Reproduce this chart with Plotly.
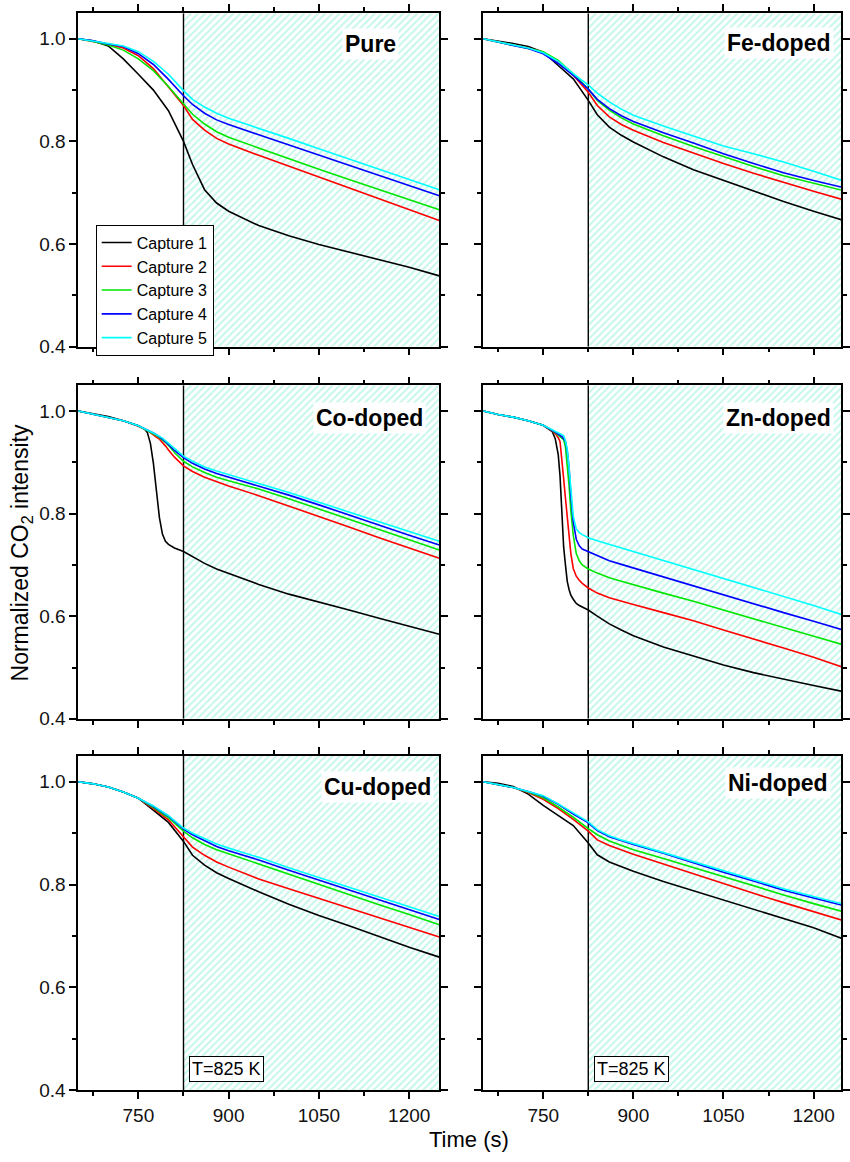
import plotly.graph_objects as go
from plotly.subplots import make_subplots

# ---------------- data ----------------
T_STD = [650, 675, 700, 725, 750, 775, 800, 825, 840, 860, 880, 900, 950, 1000, 1050, 1100, 1150, 1200, 1250]

PURE_C1 = [1.0, 0.996, 0.986, 0.961, 0.931, 0.900, 0.860, 0.800, 0.755, 0.706, 0.680, 0.664, 0.636, 0.616, 0.599, 0.584, 0.569, 0.555, 0.538]
PURE_C2 = [1.0, 0.995, 0.989, 0.982, 0.967, 0.942, 0.907, 0.870, 0.843, 0.822, 0.806, 0.795, 0.773, 0.752, 0.731, 0.710, 0.688, 0.667, 0.646]
PURE_C3 = [1.0, 0.995, 0.988, 0.978, 0.961, 0.938, 0.907, 0.873, 0.853, 0.834, 0.819, 0.808, 0.787, 0.766, 0.746, 0.726, 0.706, 0.687, 0.667]
PURE_C4 = [1.0, 0.996, 0.990, 0.985, 0.971, 0.950, 0.921, 0.889, 0.872, 0.855, 0.842, 0.833, 0.813, 0.793, 0.773, 0.753, 0.733, 0.714, 0.694]
PURE_C5 = [1.0, 0.996, 0.991, 0.986, 0.975, 0.956, 0.931, 0.899, 0.882, 0.867, 0.855, 0.845, 0.826, 0.806, 0.786, 0.766, 0.746, 0.726, 0.706]

FE_C1 = [1.0, 0.996, 0.991, 0.985, 0.974, 0.948, 0.922, 0.880, 0.852, 0.828, 0.812, 0.799, 0.770, 0.745, 0.724, 0.704, 0.683, 0.664, 0.646]
FE_C2 = [1.0, 0.994, 0.988, 0.982, 0.974, 0.955, 0.929, 0.896, 0.870, 0.848, 0.833, 0.822, 0.798, 0.777, 0.757, 0.738, 0.720, 0.703, 0.686]
FE_C3 = [1.0, 0.994, 0.988, 0.982, 0.975, 0.958, 0.932, 0.902, 0.880, 0.861, 0.846, 0.834, 0.811, 0.790, 0.770, 0.751, 0.733, 0.718, 0.704]
FE_C4 = [1.0, 0.993, 0.987, 0.981, 0.971, 0.952, 0.929, 0.902, 0.882, 0.864, 0.850, 0.839, 0.817, 0.797, 0.776, 0.757, 0.739, 0.724, 0.710]
FE_C5 = [1.0, 0.994, 0.988, 0.982, 0.973, 0.956, 0.932, 0.910, 0.894, 0.877, 0.863, 0.851, 0.830, 0.811, 0.791, 0.776, 0.760, 0.742, 0.723]

T_CO = [650, 675, 700, 725, 750, 760, 765, 770, 775, 780, 785, 790, 795, 800, 810, 825, 840, 860, 880, 900, 950, 1000, 1050, 1100, 1150, 1200, 1250]
CO_C1 = [1.0, 0.994, 0.989, 0.981, 0.971, 0.965, 0.958, 0.937, 0.898, 0.845, 0.792, 0.760, 0.746, 0.740, 0.733, 0.726, 0.716, 0.703, 0.692, 0.683, 0.662, 0.643, 0.628, 0.612, 0.596, 0.581, 0.565]
CO_C2 = [1.0, 0.994, 0.988, 0.981, 0.970, 0.965, 0.962, 0.958, 0.953, 0.949, 0.945, 0.939, 0.932, 0.924, 0.910, 0.893, 0.882, 0.871, 0.862, 0.854, 0.835, 0.815, 0.794, 0.774, 0.753, 0.733, 0.713]
CO_C3 = [1.0, 0.994, 0.988, 0.981, 0.971, 0.965, 0.962, 0.959, 0.956, 0.952, 0.948, 0.944, 0.939, 0.933, 0.919, 0.902, 0.891, 0.880, 0.871, 0.864, 0.848, 0.829, 0.809, 0.789, 0.769, 0.749, 0.729]
CO_C4 = [1.0, 0.994, 0.988, 0.981, 0.971, 0.966, 0.963, 0.960, 0.957, 0.954, 0.950, 0.945, 0.940, 0.935, 0.923, 0.909, 0.898, 0.887, 0.878, 0.871, 0.855, 0.836, 0.817, 0.797, 0.778, 0.758, 0.739]
CO_C5 = [1.0, 0.994, 0.988, 0.981, 0.971, 0.966, 0.963, 0.960, 0.957, 0.954, 0.951, 0.947, 0.942, 0.937, 0.926, 0.912, 0.902, 0.891, 0.883, 0.876, 0.860, 0.841, 0.822, 0.803, 0.784, 0.765, 0.746]

T_ZN = [650, 675, 700, 725, 750, 760, 765, 770, 775, 778, 781, 784, 787, 790, 793, 796, 800, 805, 810, 815, 825, 840, 860, 880, 900, 950, 1000, 1050, 1100, 1150, 1200, 1250]
ZN_C1 = [1.0, 0.993, 0.988, 0.981, 0.972, 0.965, 0.960, 0.946, 0.915, 0.873, 0.790, 0.735, 0.700, 0.668, 0.652, 0.641, 0.633, 0.625, 0.621, 0.618, 0.612, 0.600, 0.585, 0.573, 0.562, 0.540, 0.522, 0.505, 0.490, 0.477, 0.465, 0.453]
ZN_C2 = [1.0, 0.993, 0.988, 0.981, 0.972, 0.965, 0.961, 0.956, 0.948, 0.940, 0.910, 0.868, 0.830, 0.790, 0.755, 0.722, 0.693, 0.678, 0.670, 0.664, 0.655, 0.645, 0.636, 0.629, 0.623, 0.607, 0.591, 0.573, 0.556, 0.538, 0.520, 0.500]
ZN_C3 = [1.0, 0.993, 0.988, 0.981, 0.972, 0.966, 0.962, 0.958, 0.953, 0.950, 0.947, 0.944, 0.930, 0.899, 0.855, 0.805, 0.758, 0.722, 0.708, 0.700, 0.692, 0.684, 0.675, 0.668, 0.661, 0.645, 0.629, 0.612, 0.595, 0.577, 0.560, 0.544]
ZN_C4 = [1.0, 0.993, 0.988, 0.981, 0.972, 0.966, 0.963, 0.959, 0.955, 0.953, 0.950, 0.946, 0.941, 0.922, 0.890, 0.835, 0.784, 0.750, 0.737, 0.731, 0.726, 0.717, 0.708, 0.701, 0.694, 0.676, 0.658, 0.641, 0.624, 0.607, 0.590, 0.573]
ZN_C5 = [1.0, 0.993, 0.988, 0.981, 0.972, 0.966, 0.963, 0.960, 0.956, 0.955, 0.954, 0.952, 0.942, 0.925, 0.890, 0.850, 0.795, 0.770, 0.763, 0.759, 0.753, 0.747, 0.740, 0.733, 0.726, 0.708, 0.690, 0.673, 0.656, 0.639, 0.621, 0.602]

CU_C1 = [1.0, 0.996, 0.990, 0.980, 0.968, 0.945, 0.921, 0.884, 0.857, 0.838, 0.823, 0.812, 0.786, 0.762, 0.740, 0.720, 0.699, 0.678, 0.659]
CU_C2 = [1.0, 0.996, 0.990, 0.980, 0.968, 0.948, 0.926, 0.894, 0.873, 0.857, 0.844, 0.834, 0.811, 0.792, 0.773, 0.754, 0.736, 0.717, 0.698]
CU_C3 = [1.0, 0.996, 0.990, 0.980, 0.968, 0.950, 0.930, 0.904, 0.891, 0.878, 0.868, 0.860, 0.840, 0.820, 0.800, 0.781, 0.761, 0.742, 0.722]
CU_C4 = [1.0, 0.996, 0.990, 0.980, 0.968, 0.952, 0.933, 0.908, 0.897, 0.885, 0.874, 0.866, 0.848, 0.828, 0.809, 0.790, 0.771, 0.751, 0.732]
CU_C5 = [1.0, 0.996, 0.990, 0.980, 0.968, 0.953, 0.934, 0.910, 0.900, 0.889, 0.879, 0.871, 0.853, 0.833, 0.814, 0.795, 0.776, 0.757, 0.738]

NI_C1 = [1.0, 0.997, 0.991, 0.976, 0.954, 0.935, 0.915, 0.881, 0.858, 0.844, 0.835, 0.826, 0.806, 0.788, 0.770, 0.752, 0.734, 0.716, 0.694]
NI_C2 = [1.0, 0.995, 0.989, 0.979, 0.966, 0.948, 0.927, 0.904, 0.887, 0.876, 0.867, 0.859, 0.840, 0.821, 0.801, 0.783, 0.765, 0.748, 0.730]
NI_C3 = [1.0, 0.995, 0.989, 0.980, 0.969, 0.951, 0.931, 0.909, 0.897, 0.885, 0.876, 0.868, 0.851, 0.833, 0.816, 0.798, 0.780, 0.763, 0.747]
NI_C4 = [1.0, 0.995, 0.989, 0.981, 0.972, 0.956, 0.937, 0.920, 0.905, 0.893, 0.885, 0.878, 0.861, 0.842, 0.824, 0.807, 0.789, 0.774, 0.759]
NI_C5 = [1.0, 0.995, 0.989, 0.981, 0.973, 0.957, 0.939, 0.922, 0.907, 0.895, 0.887, 0.880, 0.863, 0.845, 0.827, 0.810, 0.792, 0.777, 0.762]

SERIES_NAMES = ["Capture 1", "Capture 2", "Capture 3", "Capture 4", "Capture 5"]
SERIES_COLORS = ["#000000", "#ff0000", "#00e600", "#0000ff", "#00ffff"]
PANEL_LABELS = ["Pure", "Fe-doped", "Co-doped", "Zn-doped", "Cu-doped", "Ni-doped"]
HEAT_START = 825          # start of isothermal region (s)
HEAT_LABEL = "T=825 K"
X_TICKS = [750, 900, 1050, 1200]
Y_TICKS = [0.4, 0.6, 0.8, 1.0]

PANELS = [
    (T_STD, [PURE_C1, PURE_C2, PURE_C3, PURE_C4, PURE_C5]),
    (T_STD, [FE_C1, FE_C2, FE_C3, FE_C4, FE_C5]),
    (T_CO, [CO_C1, CO_C2, CO_C3, CO_C4, CO_C5]),
    (T_ZN, [ZN_C1, ZN_C2, ZN_C3, ZN_C4, ZN_C5]),
    (T_STD, [CU_C1, CU_C2, CU_C3, CU_C4, CU_C5]),
    (T_STD, [NI_C1, NI_C2, NI_C3, NI_C4, NI_C5]),
]

# ---------------- layout geometry ----------------
W, H = 850, 1162
FONT = "Liberation Sans, Arial, Helvetica, sans-serif"
X_RANGE_L = [650, 1250]
X_RANGE_R = [650, 1245.6]
Y_RANGE = [0.4, 1.05]
COL_DOM = [[79 / W, 444 / W], [488.3 / W, 1.0]]
ROW_DOM = [[1 - 350 / H, 1 - 13.3 / H], [1 - 725.7 / H, 1 - 389 / H], [1 - 1100.7 / H, 1 - 763.3 / H]]
LABEL_POS = [(1135, 0.989), (1143, 0.992), (1134, 0.986), (1142, 0.986), (1147, 0.990), (1141, 0.997)]

fig = make_subplots(rows=3, cols=2)

for i, (tt, curves) in enumerate(PANELS):
    r, c = i // 2 + 1, i % 2 + 1
    xr = X_RANGE_L if c == 1 else X_RANGE_R
    # hatched isothermal region
    fig.add_trace(go.Scatter(
        x=[HEAT_START, 1300, 1300, HEAT_START, HEAT_START],
        y=[Y_RANGE[0], Y_RANGE[0], Y_RANGE[1], Y_RANGE[1], Y_RANGE[0]],
        mode="none", fill="toself", fillcolor="white",
        fillpattern=dict(shape="/", size=5, solidity=0.4, fgcolor="#8aeed6", bgcolor="white"),
        hoverinfo="skip", showlegend=False), row=r, col=c)
    # vertical line
    fig.add_trace(go.Scatter(
        x=[HEAT_START, HEAT_START], y=Y_RANGE, mode="lines",
        line=dict(color="black", width=1.4), hoverinfo="skip", showlegend=False), row=r, col=c)
    for k, yv in enumerate(curves):
        fig.add_trace(go.Scatter(
            x=tt, y=yv, mode="lines", name=SERIES_NAMES[k],
            line=dict(color=SERIES_COLORS[k], width=1.6),
            showlegend=(i == 0)), row=r, col=c)

    ax_idx = "" if i == 0 else str(i + 1)
    fig.layout["xaxis" + ax_idx].update(
        domain=COL_DOM[c - 1], range=xr, tickvals=X_TICKS,
        showticklabels=(r == 3), ticks="outside", ticklen=7, tickwidth=1.5, tickcolor="black",
        showline=True, linecolor="black", linewidth=1.5, mirror="allticks",
        showgrid=False, zeroline=False,
        minor=dict(tickvals=[675, 825, 975, 1125], ticks="outside", ticklen=4, tickwidth=1.5, tickcolor="black"),
        tickfont=dict(family=FONT, size=19, color="#111"))
    fig.layout["yaxis" + ax_idx].update(
        domain=ROW_DOM[r - 1], range=Y_RANGE, tickvals=Y_TICKS, tickformat=".1f",
        showticklabels=(c == 1), ticks="outside", ticklen=7, tickwidth=1.5, tickcolor="black",
        showline=True, linecolor="black", linewidth=1.5, mirror="allticks",
        showgrid=False, zeroline=False,
        minor=dict(tickvals=[0.5, 0.7, 0.9], ticks="outside", ticklen=4, tickwidth=1.5, tickcolor="black"),
        tickfont=dict(family=FONT, size=19, color="#111"))

    lx, ly = LABEL_POS[i]
    fig.add_annotation(x=lx, y=ly, xref="x" + ax_idx, yref="y" + ax_idx,
                       text="<b>" + PANEL_LABELS[i] + "</b>", showarrow=False,
                       font=dict(family=FONT, size=23, color="black"),
                       bgcolor="white", borderpad=2)
    if r == 3:
        fig.add_annotation(x=HEAT_START + 9, y=0.441, xref="x" + ax_idx, yref="y" + ax_idx,
                           text=HEAT_LABEL, showarrow=False, xanchor="left",
                           font=dict(family=FONT, size=18, color="black"),
                           bgcolor="white", bordercolor="black", borderwidth=1, borderpad=2)

fig.add_annotation(x=22 / W, y=1 - 558 / H, xref="paper", yref="paper",
                   xanchor="center", yanchor="middle",
                   text="Normalized CO<sub>2</sub> intensity", textangle=-90, showarrow=False,
                   font=dict(family=FONT, size=23, color="black"))
fig.add_annotation(x=474 / W, y=1 - 1150 / H, xref="paper", yref="paper",
                   xanchor="center", yanchor="middle",
                   text="Time (s)", showarrow=False,
                   font=dict(family=FONT, size=22, color="black"))

fig.update_layout(
    width=W, height=H, margin=dict(l=0, r=0, t=0, b=0),
    paper_bgcolor="white", plot_bgcolor="white",
    font=dict(family=FONT, color="black"),
    legend=dict(x=96.7 / W, y=1 - 226.7 / H, xanchor="left", yanchor="top",
                bgcolor="white", bordercolor="black", borderwidth=1,
                font=dict(family=FONT, size=16, color="black"), tracegroupgap=0,
                itemwidth=30),
)

fig.write_html("out.html")
